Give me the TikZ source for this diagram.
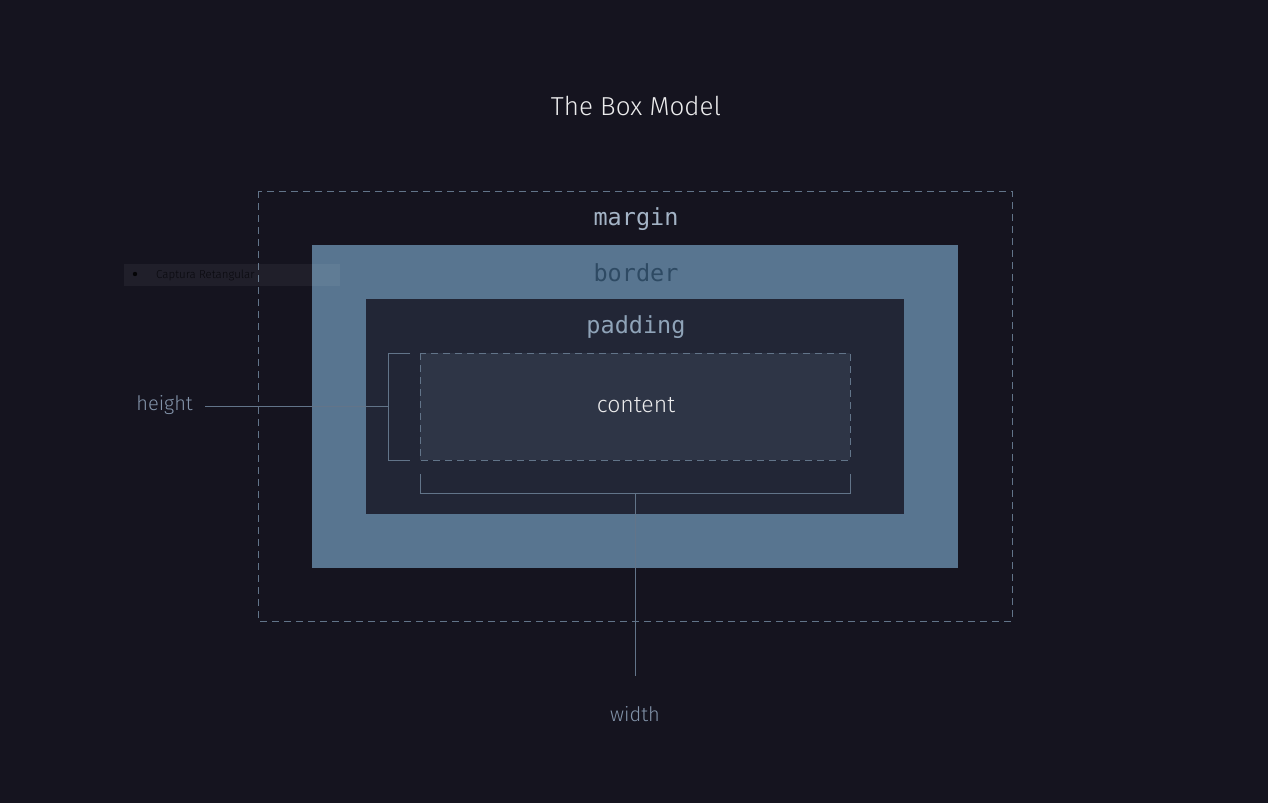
\documentclass[tikz,border=0pt]{standalone}
\usepackage{fontspec}
\IfFontExistsTF{Fira Sans Light}{\setmainfont{Fira Sans Light}}{\setmainfont{Fira Sans}}
\newfontfamily\codefont{DejaVu Sans Mono}
\begin{document}
\definecolor{bg}{HTML}{15141F}
\definecolor{borderfill}{HTML}{587590}
\definecolor{paddingfill}{HTML}{222636}
\definecolor{contentfill}{HTML}{2E3546}
\definecolor{guide}{HTML}{627489}
\definecolor{labeltext}{HTML}{8293A9}
\definecolor{margintext}{HTML}{A4B4C6}
\definecolor{bordertext}{HTML}{2E4A63}
\definecolor{paddingtext}{HTML}{8FA3B8}
\begin{tikzpicture}[x=1pt,y=-1pt,
  dashedbox/.style={draw=guide,line width=0.9pt,dash pattern=on 7pt off 5pt},
  guideline/.style={draw=guide,line width=1pt},
  layerlabel/.style={font=\codefont\fontsize{23.5}{26}\selectfont,inner sep=0pt},
  sizelabel/.style={font=\fontsize{20}{22}\selectfont,text=labeltext,inner sep=0pt}]
  \fill[bg] (0,0) rectangle (1268,803);
  \useasboundingbox (0,0) rectangle (1268,803);

  % title
  \node[font=\fontsize{26}{28}\selectfont,text=white!92!bg,inner sep=0pt] (title) at (636,106) {The Box Model};

  % margin area
  \draw[dashedbox] (258,191) rectangle (1012,621);
  \node[layerlabel,text=margintext] (marginlabel) at (636,219.5) {margin};

  % border area
  \fill[borderfill] (312,245) rectangle (958,568);
  \node[layerlabel,text=bordertext] (borderlabel) at (636,273) {border};

  % padding area
  \fill[paddingfill] (366,299) rectangle (904,514);
  \node[layerlabel,text=paddingtext] (paddinglabel) at (636,327.5) {padding};

  % content area
  \filldraw[fill=contentfill,dashedbox] (420,353) rectangle (850,460);
  \node[font=\fontsize{23}{25}\selectfont,text=white!92!bg,inner sep=0pt] (contentlabel) at (636,405) {content};

  % height bracket
  \draw[guideline] (410,353) -- (388,353) -- (388,460) -- (410,460);
  \coordinate (hbracket) at (388,406);
  \node[sizelabel,anchor=east] (heightlabel) at (193,405) {height};
  \draw[guideline] (hbracket) -- (205,406);

  % width bracket
  \draw[guideline] (420,474) -- (420,493) -- (850,493) -- (850,474);
  \coordinate (wbracket) at (635,493);
  \coordinate (wend) at (635,676);
  \node[sizelabel] (widthlabel) at (635,714) {width};
  \draw[guideline] (wbracket) -- (wend);

  % floating capture toolbar
  \fill[white,opacity=0.05] (124,264) rectangle (340,286);
  \fill[black!80!bg] (135,274) circle (2.2pt);
  \node[anchor=west,inner sep=0pt,font=\fontsize{11.5}{12}\selectfont,text=black!55!bg] (capture) at (156,275) {Captura Retangular};
\end{tikzpicture}
\end{document}
